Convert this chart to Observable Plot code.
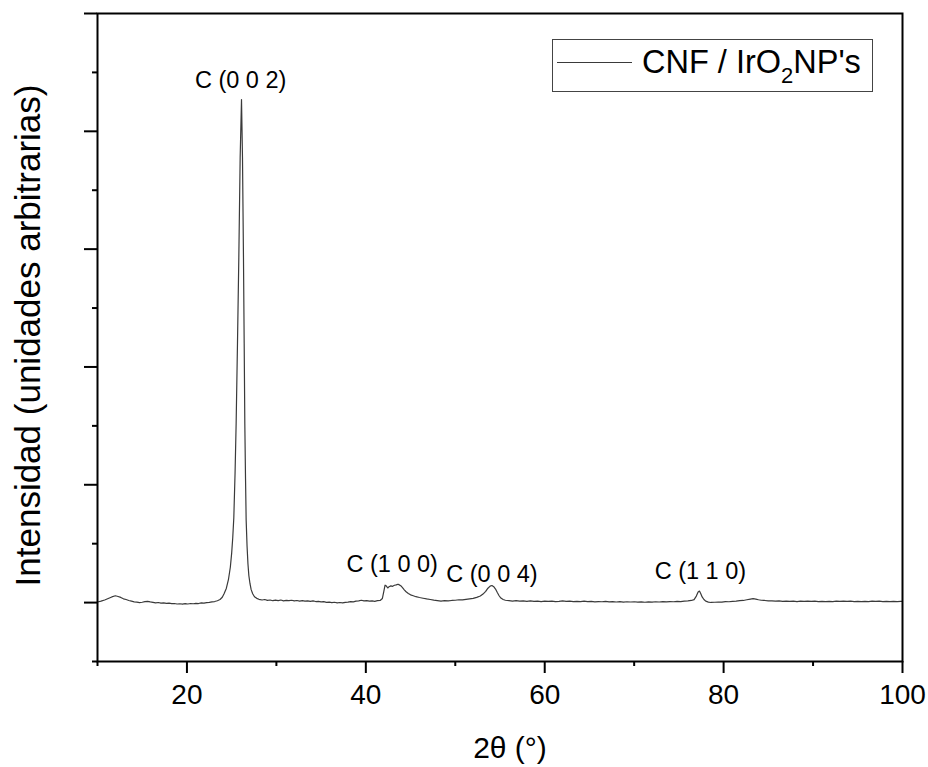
<!DOCTYPE html>
<html>
<head>
<meta charset="utf-8">
<script src="https://cdn.jsdelivr.net/npm/d3@7"></script>
<script src="https://cdn.jsdelivr.net/npm/@observablehq/plot@0.6"></script>
<style>
  html, body { margin: 0; padding: 0; background: #fff; }
  svg { display: block; }
</style>
</head>
<body>
<div id="chart"></div>
<script>
// ---- data ----
const twoTheta = [
  10.0,10.4,10.8,11.2,11.6,12.0,12.3,12.6,12.9,13.2,13.5,13.8,14.1,14.4,14.7,15.0,15.3,15.6,15.9,16.2,
  16.5,16.8,17.1,17.4,17.7,18.0,18.3,18.6,18.9,19.2,19.5,19.8,20.1,20.4,20.7,21.0,21.3,21.6,21.9,22.2,
  22.5,22.8,23.1,23.4,23.7,23.95,24.15,24.4,24.65,24.85,25.0,25.12,25.24,25.38,25.5,25.65,25.8,25.95,26.1,26.21,
  26.32,26.4,26.47,26.55,26.62,26.72,26.82,26.92,27.05,27.18,27.35,27.55,27.8,28.05,28.4,28.7,29.0,29.3,29.6,29.9,
  30.2,30.5,30.8,31.1,31.4,31.7,32.0,32.3,32.6,32.9,33.2,33.5,33.8,34.1,34.4,34.7,35.0,35.3,35.6,35.9,
  36.2,36.5,36.8,37.1,37.4,37.7,38.0,38.3,38.6,38.9,39.2,39.5,39.8,40.1,40.4,40.7,41.0,41.3,41.6,41.85,
  42.0,42.15,42.3,42.45,42.6,42.8,43.0,43.2,43.4,43.6,43.8,43.95,44.1,44.3,44.5,44.75,45.0,45.3,45.6,46.0,
  46.4,46.8,47.2,47.6,48.0,48.4,48.8,49.2,49.6,50.0,50.4,50.8,51.2,51.6,52.0,52.4,52.8,53.1,53.4,53.65,
  53.9,54.1,54.3,54.5,54.7,54.9,55.1,55.35,55.6,56.0,56.4,56.8,57.2,57.6,58.0,58.4,58.8,59.2,59.6,60.0,
  60.4,60.8,61.2,61.6,62.0,62.4,62.8,63.2,63.6,64.0,64.4,64.8,65.2,65.6,66.0,66.4,66.8,67.2,67.6,68.0,
  68.4,68.8,69.2,69.6,70.0,70.4,70.8,71.2,71.6,72.0,72.4,72.8,73.2,73.6,74.0,74.4,74.8,75.2,75.6,76.0,
  76.4,76.7,76.95,77.15,77.3,77.45,77.6,77.8,78.0,78.3,78.6,79.0,79.4,79.8,80.2,80.6,81.0,81.4,81.8,82.2,
  82.6,83.0,83.3,83.6,83.9,84.2,84.6,85.0,85.4,85.8,86.2,86.6,87.0,87.4,87.8,88.2,88.6,89.0,89.4,89.8,
  90.2,90.6,91.0,91.4,91.8,92.2,92.6,93.0,93.4,93.8,94.2,94.6,95.0,95.4,95.8,96.2,96.6,97.0,97.4,97.8,
  98.2,98.6,99.0,99.4,99.8,100.0
];
const intensity = [
  0.005,0.012,0.022,0.035,0.048,0.058,0.052,0.044,0.032,0.026,0.018,0.012,0.006,0.004,0.000,0.003,0.008,0.011,0.006,0.002,
  -0.002,0.001,-0.004,-0.003,-0.007,-0.005,-0.009,-0.008,-0.012,-0.010,-0.013,-0.009,-0.012,-0.008,-0.010,-0.006,-0.008,-0.003,-0.005,0.000,
  0.002,0.006,0.009,0.016,0.026,0.045,0.075,0.12,0.2,0.3,0.42,0.55,0.72,1.1,1.52,2.2,2.93,3.78,4.27,3.78,
  2.93,2.2,1.52,1.05,0.7,0.48,0.33,0.23,0.16,0.11,0.075,0.05,0.036,0.028,0.022,0.026,0.019,0.022,0.016,0.021,
  0.017,0.022,0.015,0.019,0.016,0.020,0.014,0.018,0.013,0.017,0.012,0.015,0.010,0.014,0.009,0.011,0.006,0.008,0.002,0.004,
  0.000,0.003,-0.002,0.001,-0.003,0.002,0.004,0.008,0.006,0.012,0.015,0.020,0.014,0.017,0.012,0.014,0.011,0.016,0.018,0.035,
  0.09,0.148,0.14,0.124,0.135,0.142,0.138,0.147,0.15,0.156,0.148,0.14,0.127,0.108,0.092,0.078,0.066,0.058,0.05,0.043,
  0.037,0.031,0.026,0.021,0.017,0.013,0.016,0.014,0.018,0.02,0.024,0.023,0.028,0.032,0.036,0.044,0.056,0.072,0.095,0.122,
  0.14,0.145,0.135,0.115,0.085,0.058,0.038,0.026,0.02,0.017,0.013,0.016,0.012,0.015,0.011,0.014,0.010,0.013,0.009,0.012,
  0.010,0.013,0.009,0.011,0.014,0.010,0.012,0.008,0.011,0.009,0.012,0.008,0.010,0.006,0.009,0.007,0.010,0.006,0.008,0.005,
  0.008,0.004,0.007,0.005,0.007,0.004,0.006,0.003,0.006,0.004,0.007,0.005,0.008,0.006,0.009,0.007,0.011,0.009,0.013,0.015,
  0.018,0.025,0.055,0.09,0.098,0.075,0.048,0.026,0.012,0.004,0.001,0.003,0.005,0.004,0.008,0.007,0.011,0.012,0.016,0.018,
  0.024,0.03,0.034,0.03,0.024,0.02,0.018,0.014,0.015,0.012,0.014,0.011,0.013,0.010,0.012,0.009,0.012,0.010,0.013,0.010,
  0.012,0.009,0.011,0.008,0.011,0.009,0.012,0.010,0.013,0.011,0.012,0.009,0.011,0.008,0.011,0.009,0.012,0.010,0.012,0.009,
  0.011,0.008,0.011,0.009,0.011,0.010
];

const peakNames = ["C (0 0 2)", "C (1 0 0)", "C (0 0 4)", "C (1 1 0)"];
const peakX = [26.0, 42.95, 54.1, 77.4];
const peakY = [4.43, 0.32, 0.237, 0.265];

const xMajorTicks = [20, 40, 60, 80, 100];
const xMinorTicks = [10, 30, 50, 70, 90];
const yMajorTicks = [0, 1, 2, 3, 4, 5];
const yMinorTicks = [-0.5, 0.5, 1.5, 2.5, 3.5, 4.5];

const xTitle = "2θ (°)";
const yTitle = "Intensidad (unidades arbitrarias)";
const seriesName = ["CNF / IrO", "2", "NP's"];

// ---- build ----
const series = twoTheta.map((t, i) => ({t, v: intensity[i]}));
const peaks = peakNames.map((name, i) => ({name, x: peakX[i], y: peakY[i]}));

const FONT = "'Liberation Sans', Arial, Helvetica, sans-serif";

const svg = Plot.plot({
  width: 928,
  height: 767,
  marginLeft: 97,
  marginRight: 26,
  marginTop: 13,
  marginBottom: 106,
  style: {fontFamily: FONT, color: "black", background: "white", overflow: "visible"},
  x: {domain: [10, 100], label: null},
  y: {domain: [-0.5, 5], label: null},
  marks: [
    Plot.line(series, {x: "t", y: "v", stroke: "#3a3a3a", strokeWidth: 1.2}),
    Plot.frame({stroke: "black", strokeWidth: 2}),
    Plot.axisX({ticks: xMajorTicks, tickSize: 12, tickPadding: 11, fontSize: 28, strokeWidth: 2, label: null, tickFormat: d => String(d)}),
    Plot.axisX({ticks: xMinorTicks, tickSize: 5, strokeWidth: 2, label: null, tickFormat: () => ""}),
    Plot.axisY({ticks: yMajorTicks, tickSize: 13, strokeWidth: 2, label: null, tickFormat: () => ""}),
    Plot.axisY({ticks: yMinorTicks, tickSize: 5, strokeWidth: 2, label: null, tickFormat: () => ""}),
    Plot.text(peaks, {x: "x", y: "y", text: "name", fontSize: 23.5, fill: "black", textAnchor: "middle", lineAnchor: "middle"}),
    Plot.text([xTitle], {text: d => d, frameAnchor: "bottom", dx: 10, dy: 87, fontSize: 30, fill: "black", textAnchor: "middle", lineAnchor: "middle"}),
    Plot.text([yTitle], {text: d => d, frameAnchor: "left", dx: -69, dy: -2, rotate: -90, fontSize: 35, fill: "black", textAnchor: "middle", lineAnchor: "middle"})
  ]
});

document.getElementById("chart").appendChild(svg);

// legend box (inside the frame, top-right)
const g = d3.select(svg).append("g").attr("font-family", FONT).attr("text-anchor", "start");
g.append("rect").attr("x", 552.5).attr("y", 39.5).attr("width", 320).attr("height", 52)
  .attr("fill", "white").attr("stroke", "#444").attr("stroke-width", 1);
g.append("line").attr("x1", 557).attr("x2", 632).attr("y1", 62.5).attr("y2", 62.5)
  .attr("stroke", "#3a3a3a").attr("stroke-width", 1);
const lt = g.append("text").attr("x", 642).attr("y", 73).attr("font-size", 32.5)
  .attr("fill", "black").attr("text-anchor", "start");
lt.append("tspan").text(seriesName[0]);
lt.append("tspan").attr("font-size", 22).attr("dy", 10).text(seriesName[1]);
lt.append("tspan").attr("dy", -10).text(seriesName[2]);
</script>
</body>
</html>
